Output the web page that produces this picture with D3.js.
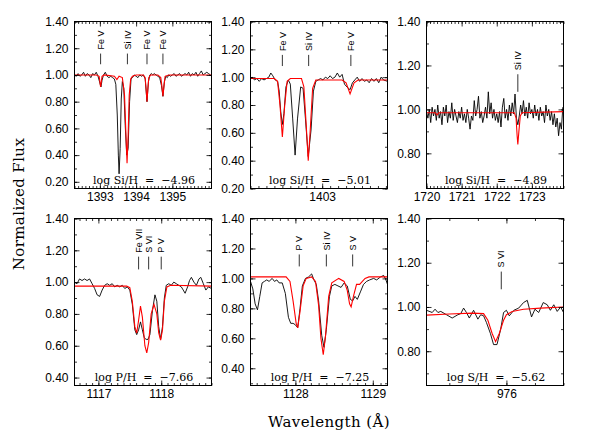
<!DOCTYPE html>
<meta charset="utf-8">
<style>
body { margin: 0; background: #fff; }
.frame { fill: none; stroke: #000; stroke-width: 1px; }
.obs { fill: none; stroke: #000; stroke-width: 0.9px; }
.model { fill: none; stroke: #f00; stroke-width: 1.1px; }
.mark { stroke: #000; stroke-width: 0.8px; }
.ion { font-family: "Liberation Sans", Arial, sans-serif; font-size: 9px; }
.abund { font-family: "DejaVu Serif", serif; font-size: 11px; white-space: pre; }
.title { font-family: "DejaVu Serif", serif; font-size: 15px; letter-spacing: 0.4px; }
</style>
<body>
<script src="https://d3js.org/d3.v7.min.js"></script>
<script>

// ---- panel 1 : Si IV 1393 ----
var p1Wave = [1392.30,1392.35,1392.40,1392.45,1392.50,1392.55,1392.60,1392.65,1392.70,1392.75,1392.80,1392.85,1392.90,1392.95,
  1393.00,1393.03,1393.06,1393.10,1393.15,1393.20,1393.25,1393.30,1393.35,1393.40,1393.44,1393.48,1393.51,1393.53,1393.56,
  1393.59,1393.62,1393.66,1393.70,1393.74,1393.78,1393.82,1393.86,1393.90,1393.95,1394.00,1394.05,1394.10,1394.15,1394.20,
  1394.25,1394.30,1394.34,1394.38,1394.42,1394.46,1394.50,1394.55,1394.60,1394.65,1394.70,1394.74,1394.78,1394.82,1394.86,
  1394.90,1394.95,1395.00,1395.05,1395.10,1395.15,1395.20,1395.25,1395.30,1395.35,1395.40,1395.45,1395.50,1395.55,1395.60,
  1395.65,1395.70,1395.75,1395.80,1395.85,1395.90,1395.95,1396.00,1396.05];
var p1Obs = [1.00,0.99,1.01,0.99,1.00,1.02,0.99,1.01,1.00,0.98,1.01,1.00,1.02,0.99,
  0.94,0.91,0.96,1.00,1.02,0.99,0.98,0.99,0.98,0.97,0.93,0.70,0.40,0.26,0.45,
  0.82,0.95,0.90,0.62,0.40,0.45,0.80,0.97,0.98,1.00,0.99,0.98,1.00,0.99,1.00,
  0.97,0.80,0.95,1.00,1.01,1.00,1.01,1.00,0.99,0.98,0.92,0.84,0.95,0.99,0.98,
  1.00,0.99,1.00,1.01,0.99,1.00,1.01,0.99,1.00,1.01,1.00,1.02,0.99,1.01,1.00,
  1.02,0.99,1.01,1.03,1.00,1.01,1.02,1.01,1.00];
var p1ModWave = [1392.30,1392.90,1392.98,1393.02,1393.06,1393.12,1393.40,1393.47,1393.53,1393.62,1393.68,1393.72,1393.75,
  1393.78,1393.81,1393.85,1393.90,1394.00,1394.20,1394.25,1394.28,1394.30,1394.32,1394.35,1394.40,1394.60,1394.68,1394.71,
  1394.74,1394.77,1394.80,1394.90,1396.08];
var p1Mod = [1.00,1.00,0.99,0.91,0.99,1.00,0.99,0.965,0.99,0.98,0.85,0.55,0.34,
  0.55,0.85,0.97,0.99,1.00,1.00,0.98,0.88,0.80,0.88,0.98,1.00,1.00,0.98,0.92,
  0.84,0.92,0.99,1.00,1.00];
var p1LineWave = [1393.02, 1393.76, 1394.30, 1394.74];
var p1LineName = ["Fe V", "Si IV", "Fe V", "Fe V"];
var p1XTicks = [1393, 1394, 1395];
var p1Abund = "log Si/H  =  \u22124.96";

// ---- panel 2 : Si IV 1403 ----
var p2Wave = [1402.10,1402.12,1402.15,1402.18,1402.21,1402.24,1402.27,1402.30,1402.33,1402.355,1402.38,1402.41,1402.44,
  1402.46,1402.48,1402.50,1402.52,1402.545,1402.575,1402.60,1402.63,1402.66,1402.69,1402.73,1402.76,1402.79,1402.825,
  1402.86,1402.89,1402.92,1402.95,1402.98,1403.01,1403.04,1403.07,1403.10,1403.13,1403.16,1403.19,1403.22,1403.25,
  1403.28,1403.31,1403.35,1403.38,1403.41,1403.44,1403.47,1403.50,1403.53,1403.56,1403.59,1403.62,1403.65,1403.68,
  1403.71,1403.74,1403.77,1403.82];
var p2Obs = [0.99,1.00,0.98,0.99,0.97,0.99,0.98,0.99,1.00,1.03,1.01,0.98,0.97,
  0.90,0.75,0.66,0.74,0.93,0.98,0.95,0.70,0.44,0.70,0.93,0.92,0.70,0.43,
  0.62,0.90,0.97,0.98,0.99,0.98,1.00,0.99,1.01,0.99,1.00,1.03,1.00,1.02,
  0.95,0.93,0.91,0.96,0.98,1.00,0.97,0.99,0.97,0.98,0.96,0.99,0.97,0.99,
  0.96,1.00,0.98,0.97];
var p2ModWave = [1402.10,1402.40,1402.44,1402.47,1402.50,1402.53,1402.56,1402.60,1402.74,1402.77,1402.80,1402.825,
  1402.85,1402.88,1402.92,1403.25,1403.30,1403.35,1403.40,1403.45,1403.82];
var p2Mod = [0.99,0.99,0.97,0.80,0.57,0.80,0.97,0.99,0.99,0.93,0.65,0.40,
  0.62,0.92,0.98,0.98,0.96,0.88,0.96,0.98,0.98];
var p2LineWave = [1402.50, 1402.83, 1403.36];
var p2LineName = ["Fe V", "Si IV", "Fe V"];
var p2XTicks = [1403];
var p2Abund = "log Si/H  =  \u22125.01";

// ---- panel 3 : Si IV 1722 ----
var p3Wave = [1720.00,1720.04,1720.08,1720.12,1720.16,1720.20,1720.24,1720.28,1720.32,1720.36,1720.40,1720.44,1720.48,
  1720.52,1720.56,1720.60,1720.64,1720.68,1720.72,1720.76,1720.80,1720.84,1720.88,1720.92,1720.96,1721.00,1721.04,
  1721.08,1721.12,1721.16,1721.20,1721.24,1721.28,1721.32,1721.36,1721.40,1721.44,1721.48,1721.52,1721.56,1721.60,
  1721.64,1721.68,1721.72,1721.76,1721.80,1721.84,1721.88,1721.92,1721.96,1722.00,1722.04,1722.08,1722.12,1722.16,
  1722.20,1722.24,1722.28,1722.32,1722.36,1722.40,1722.44,1722.48,1722.52,1722.56,1722.60,1722.64,1722.68,1722.72,
  1722.76,1722.80,1722.84,1722.88,1722.92,1722.96,1723.00,1723.04,1723.08,1723.12,1723.16,1723.20,1723.24,1723.28,
  1723.32,1723.36,1723.40,1723.44,1723.48,1723.52,1723.56,1723.60,1723.64,1723.68,1723.72,1723.76,1723.80,1723.84,1723.88];
var p3Obs = [0.99,0.96,1.00,0.94,1.01,0.97,1.00,0.95,1.02,0.96,0.99,0.93,1.01,
  0.97,1.02,0.94,0.99,0.96,1.03,0.95,1.00,0.97,0.94,0.99,0.96,1.01,0.95,
  0.98,0.94,1.00,0.96,0.91,0.97,0.95,1.04,0.97,1.00,1.06,0.96,0.99,0.94,
  0.97,1.01,0.96,1.08,0.98,1.03,0.96,1.00,0.95,0.98,0.94,0.99,0.92,1.01,
  1.05,0.96,1.00,0.95,1.02,0.97,1.03,0.98,1.07,0.96,0.93,0.97,1.02,0.98,
  1.04,0.97,1.01,0.96,1.03,0.98,1.00,0.96,1.02,0.97,1.00,0.95,1.01,0.97,
  0.99,0.94,1.02,0.97,1.00,0.95,0.99,0.93,0.98,0.92,0.96,0.88,0.94,0.91,1.01];
var p3ModWave = [1720.00,1720.25,1720.30,1720.35,1722.50,1722.55,1722.58,1722.60,1722.63,1722.67,1722.72,1723.90];
var p3Mod = [0.985,0.985,0.975,0.985,0.985,0.96,0.88,0.84,0.90,0.97,0.985,0.99];
var p3LineWave = [1722.60];
var p3LineName = ["Si IV"];
var p3XTicks = [1720, 1721, 1722, 1723];
var p3Abund = "log Si/H  =  \u22124.89";

// ---- panel 4 : P V 1118 ----
var p4Wave = [1116.62,1116.66,1116.70,1116.74,1116.78,1116.82,1116.86,1116.90,1116.94,1116.98,1117.02,1117.06,1117.10,
  1117.14,1117.18,1117.22,1117.26,1117.30,1117.34,1117.38,1117.42,1117.46,1117.50,1117.54,1117.58,1117.61,1117.64,
  1117.67,1117.70,1117.73,1117.76,1117.79,1117.82,1117.86,1117.90,1117.93,1117.96,1117.99,1118.02,1118.05,1118.08,
  1118.12,1118.16,1118.20,1118.24,1118.28,1118.32,1118.35,1118.38,1118.42,1118.45,1118.48,1118.52,1118.56,1118.60,
  1118.63,1118.67,1118.71,1118.75,1118.80];
var p4Obs = [1.00,0.99,1.02,1.01,1.02,1.01,1.02,0.99,0.96,0.92,0.91,0.95,0.98,
  0.99,0.98,0.99,0.97,0.98,0.97,0.98,0.96,0.97,0.95,0.86,0.70,0.67,0.70,
  0.75,0.70,0.65,0.64,0.64,0.67,0.82,0.92,0.88,0.72,0.64,0.72,0.90,0.98,
  0.99,0.98,1.00,0.99,0.98,0.97,0.95,0.93,0.97,1.01,1.03,1.00,0.98,1.02,
  1.03,0.99,0.95,0.97,0.96];
var p4ModWave = [1116.62,1117.45,1117.50,1117.54,1117.58,1117.61,1117.64,1117.67,1117.70,1117.74,1117.77,1117.80,
  1117.84,1117.885,1117.93,1117.96,1117.99,1118.02,1118.05,1118.09,1118.15,1118.80];
var p4Mod = [0.975,0.975,0.965,0.88,0.72,0.68,0.76,0.85,0.78,0.60,0.555,0.62,
  0.80,0.86,0.80,0.68,0.635,0.70,0.88,0.97,0.98,0.975];
var p4LineWave = [1117.64, 1117.80, 1118.00];
var p4LineName = ["Fe VII", "S VI", "P V"];
var p4XTicks = [1117, 1118];
var p4Abund = "log P/H  =  \u22127.66";

// ---- panel 5 : P V 1128 ----
var p5Wave = [1127.42,1127.45,1127.48,1127.51,1127.54,1127.57,1127.60,1127.63,1127.66,1127.70,1127.73,1127.76,1127.79,
  1127.83,1127.87,1127.91,1127.94,1127.97,1128.00,1128.03,1128.06,1128.09,1128.13,1128.17,1128.21,1128.24,1128.27,
  1128.30,1128.34,1128.37,1128.40,1128.44,1128.47,1128.51,1128.55,1128.59,1128.63,1128.67,1128.71,1128.74,1128.77,
  1128.80,1128.84,1128.88,1128.92,1128.96,1129.01,1129.05,1129.10,1129.14,1129.17,1129.19];
var p5Obs = [0.98,0.93,0.83,0.79,0.88,0.97,0.98,0.99,0.98,1.00,0.98,0.99,0.97,
  0.97,0.90,0.74,0.70,0.70,0.69,0.67,0.80,0.95,1.00,1.01,1.03,0.99,0.96,
  0.85,0.62,0.54,0.66,0.88,0.95,0.96,0.95,0.94,0.97,0.95,0.86,0.85,0.88,
  0.86,0.91,0.96,0.98,0.99,1.00,0.99,1.01,1.02,0.99,0.96];
var p5ModWave = [1127.42,1127.88,1127.93,1127.97,1128.01,1128.03,1128.06,1128.10,1128.14,1128.21,1128.26,1128.30,
  1128.33,1128.36,1128.39,1128.43,1128.47,1128.56,1128.63,1128.67,1128.70,1128.72,1128.75,1128.79,1128.83,1128.90,
  1128.95,1129.19];
var p5Mod = [1.01,1.01,0.98,0.85,0.70,0.67,0.78,0.95,1.00,1.01,0.98,0.82,
  0.60,0.49,0.62,0.88,0.97,1.00,0.98,0.92,0.83,0.81,0.88,0.96,0.96,1.00,
  1.01,1.01];
var p5LineWave = [1128.05, 1128.40, 1128.74];
var p5LineName = ["P V", "Si IV", "S V"];
var p5XTicks = [1128, 1129];
var p5Abund = "log P/H  =  \u22127.25";

// ---- panel 6 : S VI 976 ----
var p6Wave = [975.72,975.74,975.75,975.76,975.77,975.79,975.81,975.83,975.84,975.85,975.86,975.87,975.885,975.90,
  975.91,975.92,975.93,975.944,975.955,975.967,975.98,975.99,976.00,976.01,976.026,976.043,976.06,976.073,976.088,
  976.10,976.113,976.129,976.143,976.154,976.166,976.178,976.19,976.20];
var p6Obs = [0.985,0.975,0.99,0.975,0.98,0.965,0.95,0.965,0.97,0.995,0.975,0.95,0.985,0.945,
  0.965,0.96,0.93,0.88,0.83,0.83,0.90,0.975,0.985,0.96,0.985,0.995,1.02,1.03,0.955,
  0.99,0.975,1.02,1.01,0.985,1.01,0.98,1.00,0.975];
var p6ModWave = [975.72,975.80,975.88,975.92,975.935,975.95,975.962,975.975,975.99,976.00,976.02,976.06,976.12,976.20];
var p6Mod = [0.963,0.968,0.972,0.97,0.94,0.88,0.843,0.88,0.94,0.965,0.98,0.99,0.995,1.00];
var p6LineWave = [975.982];
var p6LineName = ["S VI"];
var p6XTicks = [976];
var p6Abund = "log S/H  =  \u22125.62";

var yTickValues = [0.20, 0.40, 0.60, 0.80, 1.00, 1.20, 1.40];

var panels = [
  {left: 74.5,  top: 21.5,  xd: [1392.30, 1396.08], yd: [0.15, 1.40],  wave: p1Wave, obs: p1Obs, mWave: p1ModWave, mod: p1Mod, lw: p1LineWave, ln: p1LineName, xt: p1XTicks, ab: p1Abund},
  {left: 250.5, top: 21.5,  xd: [1402.10, 1403.82], yd: [0.20, 1.40],  wave: p2Wave, obs: p2Obs, mWave: p2ModWave, mod: p2Mod, lw: p2LineWave, ln: p2LineName, xt: p2XTicks, ab: p2Abund},
  {left: 426.5, top: 21.5,  xd: [1720.00, 1723.90], yd: [0.64, 1.40],  wave: p3Wave, obs: p3Obs, mWave: p3ModWave, mod: p3Mod, lw: p3LineWave, ln: p3LineName, xt: p3XTicks, ab: p3Abund},
  {left: 74.5,  top: 218.5, xd: [1116.62, 1118.80], yd: [0.35, 1.40],  wave: p4Wave, obs: p4Obs, mWave: p4ModWave, mod: p4Mod, lw: p4LineWave, ln: p4LineName, xt: p4XTicks, ab: p4Abund},
  {left: 250.5, top: 218.5, xd: [1127.42, 1129.19], yd: [0.285, 1.40], wave: p5Wave, obs: p5Obs, mWave: p5ModWave, mod: p5Mod, lw: p5LineWave, ln: p5LineName, xt: p5XTicks, ab: p5Abund},
  {left: 426.5, top: 218.5, xd: [975.72, 976.20],   yd: [0.645, 1.40], wave: p6Wave, obs: p6Obs, mWave: p6ModWave, mod: p6Mod, lw: p6LineWave, ln: p6LineName, xt: p6XTicks, ab: p6Abund}
];

var pw = 137, ph = 167;

var svg = d3.select("body").append("svg")
    .attr("width", 612)
    .attr("height", 447);

// minor ticks every step inside a domain
function steps(d, step) {
  var out = [];
  for (var v = Math.ceil(d[0] / step - 1e-6) * step; v <= d[1] + 1e-9; v += step) out.push(+v.toFixed(3));
  return out;
}

function noLabel(g) {
  g.select(".domain").remove();
  g.selectAll("text").remove();
  g.selectAll("line").attr("stroke-width", 0.8);
}

function drawPanel(p, i) {
  var x = d3.scaleLinear().domain(p.xd).range([0, pw]);
  var y = d3.scaleLinear().domain(p.yd).range([ph, 0]);
  var g = svg.append("g").attr("transform", "translate(" + p.left + "," + p.top + ")");

  g.append("clipPath").attr("id", "clip" + i)
    .append("rect").attr("width", pw).attr("height", ph);

  var line = d3.line().x(function(d) { return x(d[0]); }).y(function(d) { return y(d[1]); });
  var obs = d3.zip(p.wave, p.obs);
  var mod = d3.zip(p.mWave, p.mod);

  g.append("path").datum(obs).attr("class", "obs").attr("clip-path", "url(#clip" + i + ")").attr("d", line);
  g.append("path").datum(mod).attr("class", "model").attr("clip-path", "url(#clip" + i + ")").attr("d", line);

  // minor ticks all round
  var xMinor = steps(p.xd, 0.1), yMinor = steps(p.yd, 0.1);
  g.append("g").attr("transform", "translate(0," + ph + ")")
    .call(d3.axisBottom(x).tickValues(xMinor).tickSize(-2.5)).call(noLabel);
  g.append("g").call(d3.axisTop(x).tickValues(xMinor).tickSize(-2.5)).call(noLabel);
  g.append("g").call(d3.axisLeft(y).tickValues(yMinor).tickSize(-2.5)).call(noLabel);
  g.append("g").attr("transform", "translate(" + pw + ",0)")
    .call(d3.axisRight(y).tickValues(yMinor).tickSize(-2.5)).call(noLabel);

  // major ticks
  var yMajor = yTickValues.filter(function(v) { return v >= p.yd[0] - 1e-6 && v <= p.yd[1] + 1e-6; });
  g.append("g").attr("transform", "translate(0," + ph + ")")
    .call(d3.axisBottom(x).tickValues(p.xt).tickSize(-5).tickPadding(3.5).tickFormat(d3.format("d")))
    .call(function(a) {
      a.select(".domain").remove();
      a.selectAll("line").attr("stroke-width", 0.8);
      a.attr("font-family", "Liberation Sans, Arial, sans-serif").attr("font-size", 12);
    });
  g.append("g").call(d3.axisTop(x).tickValues(p.xt).tickSize(-5)).call(noLabel);
  g.append("g")
    .call(d3.axisLeft(y).tickValues(yMajor).tickSize(-5).tickPadding(6).tickFormat(d3.format(".2f")))
    .call(function(a) {
      a.select(".domain").remove();
      a.selectAll("line").attr("stroke-width", 0.8);
      a.attr("font-family", "Liberation Sans, Arial, sans-serif").attr("font-size", 12);
    });
  g.append("g").attr("transform", "translate(" + pw + ",0)")
    .call(d3.axisRight(y).tickValues(yMajor).tickSize(-5)).call(noLabel);

  g.append("rect").attr("class", "frame").attr("width", pw).attr("height", ph);

  // line identifications
  var ids = g.selectAll(".id").data(d3.zip(p.lw, p.ln)).enter().append("g");
  ids.append("line").attr("class", "mark")
    .attr("x1", function(d) { return x(d[0]); }).attr("x2", function(d) { return x(d[0]); })
    .attr("y1", y(1.08)).attr("y2", y(1.16));
  ids.append("text").attr("class", "ion")
    .attr("transform", function(d) { return "translate(" + x(d[0]) + "," + (y(1.16) - 4) + ") rotate(-90)"; })
    .attr("dy", "0.35em")
    .text(function(d) { return d[1]; });

  g.append("text").attr("class", "abund")
    .attr("x", pw / 2 + 1).attr("y", ph - 5)
    .attr("text-anchor", "middle")
    .text(p.ab);
}

panels.forEach(drawPanel);

svg.append("text").attr("class", "title")
    .attr("transform", "translate(19,204) rotate(-90)")
    .attr("text-anchor", "middle")
    .attr("dy", "0.35em")
    .text("Normalized Flux");

svg.append("text").attr("class", "title")
    .attr("x", 329).attr("y", 427)
    .attr("text-anchor", "middle")
    .text("Wavelength (\u00c5)");

</script>
</body>
